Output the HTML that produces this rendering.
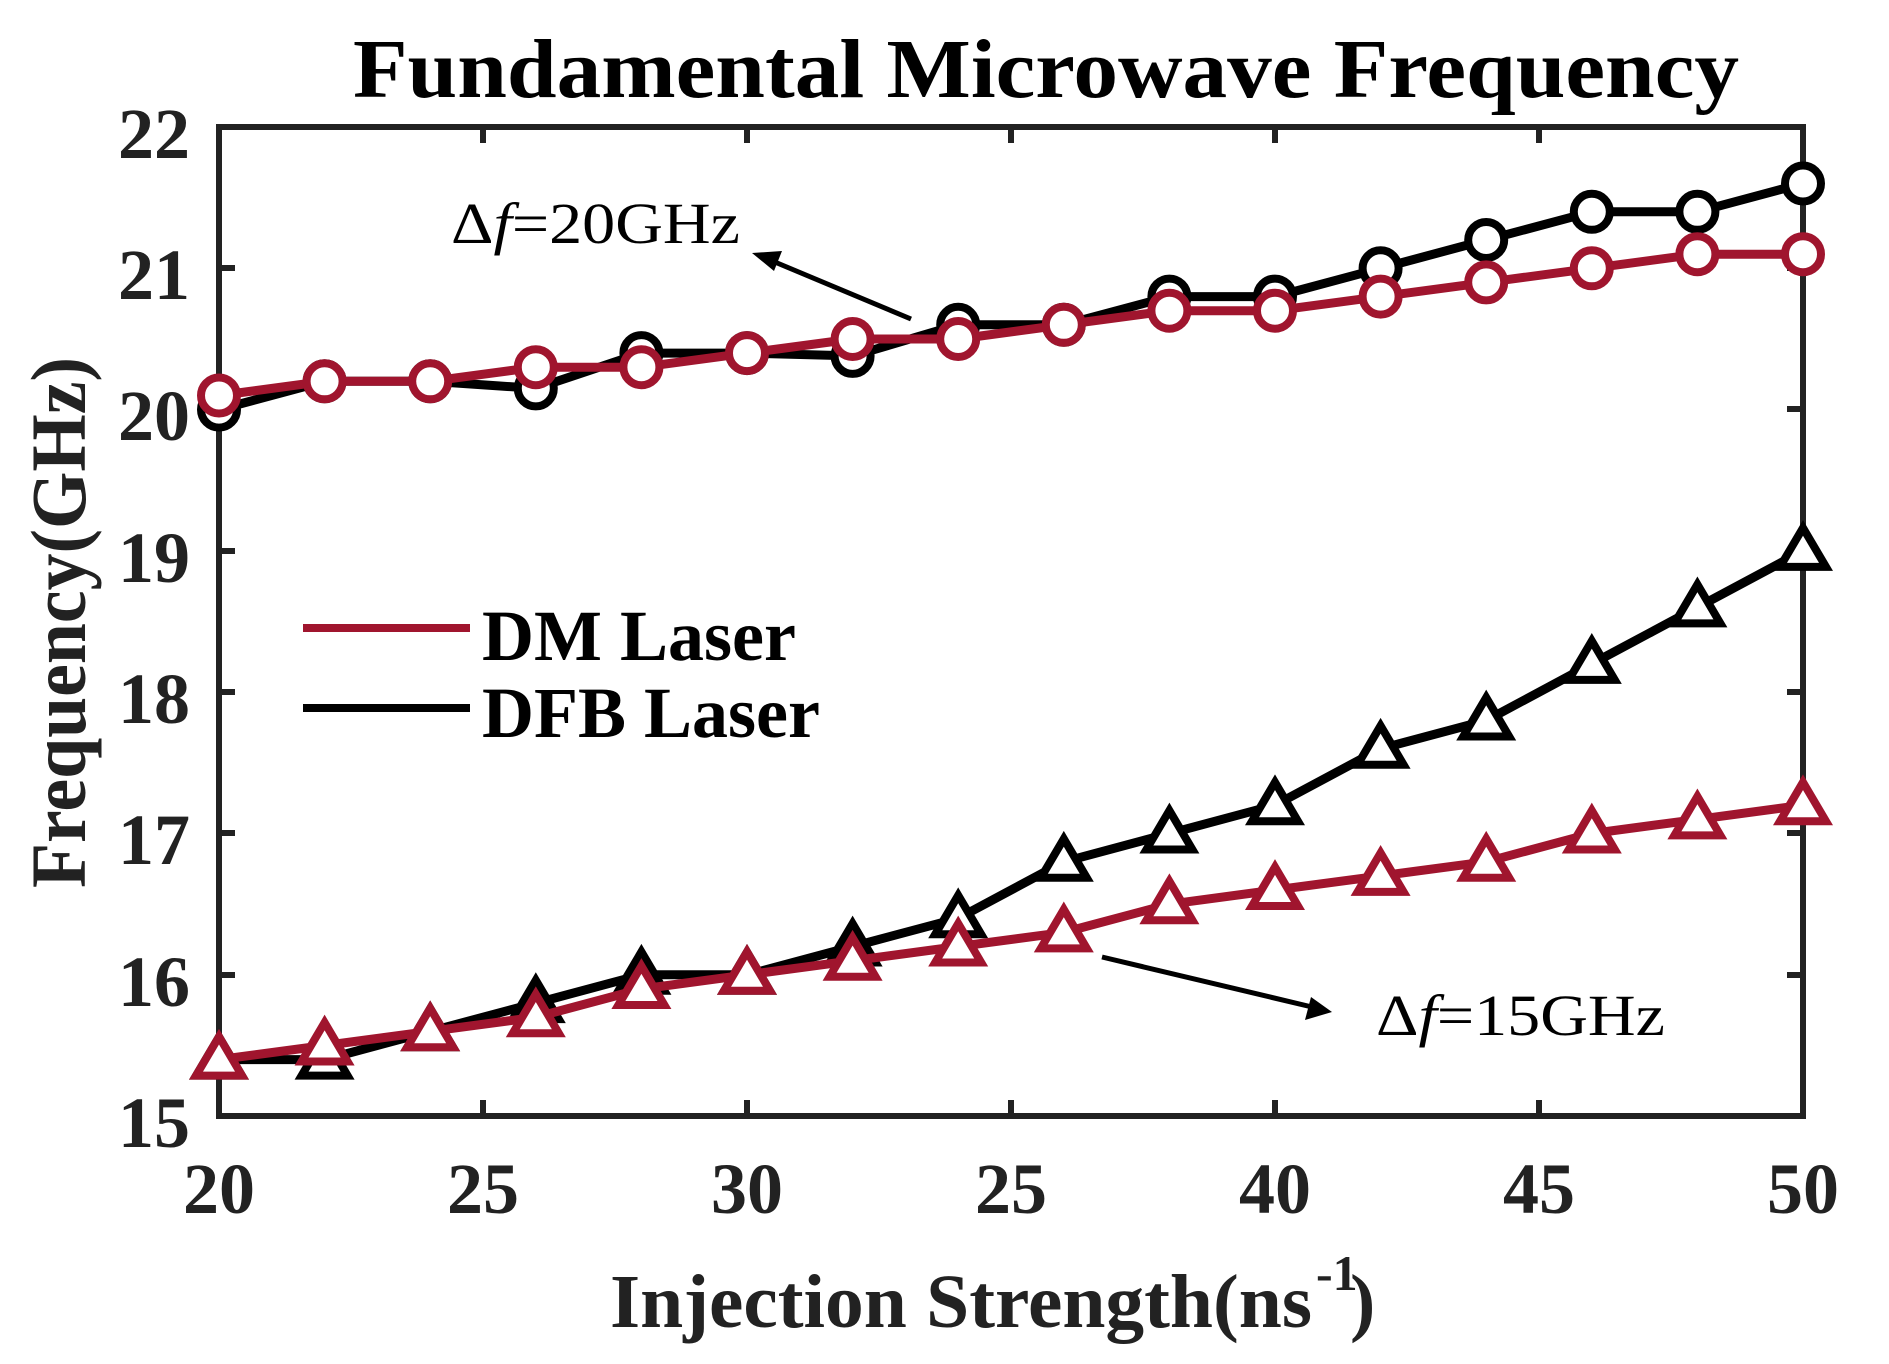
<!DOCTYPE html>
<html><head><meta charset="utf-8"><style>html,body{margin:0;padding:0;background:#fff}svg{display:block}</style></head>
<body>
<svg width="1889" height="1364" viewBox="0 0 1889 1364" xmlns="http://www.w3.org/2000/svg" xmlns:xlink="http://www.w3.org/1999/xlink" font-family="Liberation Serif, serif">
<defs>
<circle id="c" cx="0" cy="0" r="18"/>
<polygon id="t" points="0,-23 -23,16 23,16"/>
</defs>
<text x="353" y="97" font-size="84" font-weight="bold" textLength="1386" lengthAdjust="spacingAndGlyphs" fill="#000">Fundamental Microwave Frequency</text>
<g stroke="#222" stroke-width="6" fill="none">
<rect x="219" y="127" width="1584" height="989"/>
<path d="M483 1116v-16M747 1116v-16M1011 1116v-16M1275 1116v-16M1539 1116v-16M483 127v16M747 127v16M1011 127v16M1275 127v16M1539 127v16M219 268h16M219 409h16M219 551h16M219 692h16M219 833h16M219 975h16M1803 268h-16M1803 409h-16M1803 551h-16M1803 692h-16M1803 833h-16M1803 975h-16"/>
</g>
<g font-size="72" font-weight="bold" fill="#222" text-anchor="end">
<text x="190" y="158">22</text><text x="190" y="299">21</text><text x="190" y="440">20</text><text x="190" y="582">19</text><text x="190" y="723">18</text><text x="190" y="864">17</text><text x="190" y="1006">16</text><text x="190" y="1147">15</text>
</g>
<g font-size="72" font-weight="bold" fill="#222" text-anchor="middle">
<text x="219" y="1213">20</text><text x="483" y="1213">25</text><text x="747" y="1213">30</text><text x="1011" y="1213">25</text><text x="1275" y="1213">40</text><text x="1539" y="1213">45</text><text x="1803" y="1213">50</text>
</g>
<text transform="translate(85,888) rotate(-90)" font-size="78" font-weight="bold" fill="#222" textLength="531" lengthAdjust="spacingAndGlyphs">Frequency(GHz)</text>
<text x="610" y="1327" font-size="76" font-weight="bold" fill="#222" textLength="702" lengthAdjust="spacingAndGlyphs">Injection Strength(ns</text>
<text x="1316" y="1290" font-size="50" font-weight="bold" fill="#222">-1</text>
<text x="1350" y="1327" font-size="76" font-weight="bold" fill="#222">)</text>

<g fill="none" stroke-width="9" stroke-linejoin="round">
<polyline stroke="#000" points="219,409.6 324.6,381.3 430.2,381.3 535.8,388.4 641.4,353.1 747,353.1 852.6,355.9 958.2,324.8 1063.8,324.8 1169.4,296.6 1275,296.6 1380.6,268.3 1486.2,240 1591.8,211.8 1697.4,211.8 1803,183.5"/>
<polyline stroke="#000" points="219,1059.6 324.6,1059.6 430.2,1031.3 535.8,1003.1 641.4,974.8 747,974.8 852.6,946.5 958.2,918.3 1063.8,861.8 1169.4,833.5 1275,805.2 1380.6,748.7 1486.2,720.5 1591.8,663.9 1697.4,607.4 1803,550.9"/>
</g>
<g fill="#fff" stroke="#000" stroke-width="8">
<use xlink:href="#c" x="219" y="409.6"/><use xlink:href="#c" x="324.6" y="381.3"/><use xlink:href="#c" x="430.2" y="381.3"/><use xlink:href="#c" x="535.8" y="388.4"/><use xlink:href="#c" x="641.4" y="353.1"/><use xlink:href="#c" x="747" y="353.1"/><use xlink:href="#c" x="852.6" y="355.9"/><use xlink:href="#c" x="958.2" y="324.8"/><use xlink:href="#c" x="1063.8" y="324.8"/><use xlink:href="#c" x="1169.4" y="296.6"/><use xlink:href="#c" x="1275" y="296.6"/><use xlink:href="#c" x="1380.6" y="268.3"/><use xlink:href="#c" x="1486.2" y="240"/><use xlink:href="#c" x="1591.8" y="211.8"/><use xlink:href="#c" x="1697.4" y="211.8"/><use xlink:href="#c" x="1803" y="183.5"/>
<use xlink:href="#t" x="219" y="1059.6"/><use xlink:href="#t" x="324.6" y="1059.6"/><use xlink:href="#t" x="430.2" y="1031.3"/><use xlink:href="#t" x="535.8" y="1003.1"/><use xlink:href="#t" x="641.4" y="974.8"/><use xlink:href="#t" x="747" y="974.8"/><use xlink:href="#t" x="852.6" y="946.5"/><use xlink:href="#t" x="958.2" y="918.3"/><use xlink:href="#t" x="1063.8" y="861.8"/><use xlink:href="#t" x="1169.4" y="833.5"/><use xlink:href="#t" x="1275" y="805.2"/><use xlink:href="#t" x="1380.6" y="748.7"/><use xlink:href="#t" x="1486.2" y="720.5"/><use xlink:href="#t" x="1591.8" y="663.9"/><use xlink:href="#t" x="1697.4" y="607.4"/><use xlink:href="#t" x="1803" y="550.9"/>
</g>

<g fill="none" stroke-width="9" stroke-linejoin="round">
<polyline stroke="#A0152E" points="219,395.5 324.6,381.3 430.2,381.3 535.8,367.2 641.4,367.2 747,353.1 852.6,339 958.2,339 1063.8,324.8 1169.4,310.7 1275,310.7 1380.6,296.6 1486.2,282.4 1591.8,268.3 1697.4,254.2 1803,254.2"/>
<polyline stroke="#A0152E" points="219,1059.6 324.6,1045.5 430.2,1031.3 535.8,1017.2 641.4,989 747,974.8 852.6,960.7 958.2,946.5 1063.8,932.4 1169.4,904.2 1275,890 1380.6,875.9 1486.2,861.8 1591.8,833.5 1697.4,819.4 1803,805.2"/>
</g>
<g fill="#fff" stroke="#A0152E" stroke-width="8">
<use xlink:href="#c" x="219" y="395.5"/><use xlink:href="#c" x="324.6" y="381.3"/><use xlink:href="#c" x="430.2" y="381.3"/><use xlink:href="#c" x="535.8" y="367.2"/><use xlink:href="#c" x="641.4" y="367.2"/><use xlink:href="#c" x="747" y="353.1"/><use xlink:href="#c" x="852.6" y="339"/><use xlink:href="#c" x="958.2" y="339"/><use xlink:href="#c" x="1063.8" y="324.8"/><use xlink:href="#c" x="1169.4" y="310.7"/><use xlink:href="#c" x="1275" y="310.7"/><use xlink:href="#c" x="1380.6" y="296.6"/><use xlink:href="#c" x="1486.2" y="282.4"/><use xlink:href="#c" x="1591.8" y="268.3"/><use xlink:href="#c" x="1697.4" y="254.2"/><use xlink:href="#c" x="1803" y="254.2"/>
<use xlink:href="#t" x="219" y="1059.6"/><use xlink:href="#t" x="324.6" y="1045.5"/><use xlink:href="#t" x="430.2" y="1031.3"/><use xlink:href="#t" x="535.8" y="1017.2"/><use xlink:href="#t" x="641.4" y="989"/><use xlink:href="#t" x="747" y="974.8"/><use xlink:href="#t" x="852.6" y="960.7"/><use xlink:href="#t" x="958.2" y="946.5"/><use xlink:href="#t" x="1063.8" y="932.4"/><use xlink:href="#t" x="1169.4" y="904.2"/><use xlink:href="#t" x="1275" y="890"/><use xlink:href="#t" x="1380.6" y="875.9"/><use xlink:href="#t" x="1486.2" y="861.8"/><use xlink:href="#t" x="1591.8" y="833.5"/><use xlink:href="#t" x="1697.4" y="819.4"/><use xlink:href="#t" x="1803" y="805.2"/>
</g>

<line x1="303" y1="628" x2="470" y2="628" stroke="#A0152E" stroke-width="8"/>
<line x1="303" y1="708" x2="470" y2="708" stroke="#000" stroke-width="8"/>
<text x="482" y="660" font-size="72" font-weight="bold" fill="#000">DM Laser</text>
<text x="482" y="737" font-size="72" font-weight="bold" fill="#000">DFB Laser</text>
<text x="451" y="243" font-size="58" fill="#000" textLength="289" lengthAdjust="spacingAndGlyphs">Δ<tspan font-style="italic">f</tspan>=20GHz</text>
<text x="1376" y="1035" font-size="58" fill="#000" textLength="289" lengthAdjust="spacingAndGlyphs">Δ<tspan font-style="italic">f</tspan>=15GHz</text>
<line x1="911" y1="319" x2="770" y2="260" stroke="#000" stroke-width="5"/>
<polygon points="752,253 782,251 774,271" fill="#000"/>
<line x1="1102" y1="957" x2="1312" y2="1007" stroke="#000" stroke-width="5"/>
<polygon points="1332,1012 1305,1020 1311,997" fill="#000"/>
</svg>
</body></html>
